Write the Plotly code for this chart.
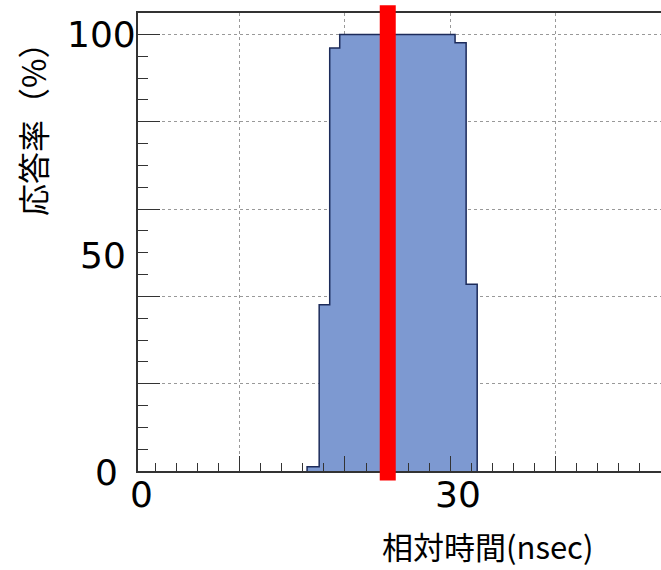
import plotly.graph_objects as go

# ---- data ----
bin_edges = [16.4, 17.55, 18.55, 19.5, 20.6, 21.7, 22.8, 23.9, 25.0, 26.05, 27.15, 28.25, 29.35, 30.45, 31.5, 32.55]
rate = [1.0, 38.1, 96.9, 100, 100, 100, 100, 100, 100, 100, 100, 100, 100, 98.1, 42.8]
marker_time = 24.06

x_major = [10, 20, 30, 40, 50]
y_major = [0, 20, 40, 60, 80, 100]
x_label_vals = [0, 30]
x_label_text = ["0", "30"]
y_label_vals = [100, 49.3, -0.3]
y_label_text = ["100", "50", "0"]
y_label_shift = [0, -10, -18]

x_title = "相対時間(nsec)"
y_title = "応答率（%）"

# ---- layout geometry ----
W, H = 661, 570
L, R, T, B = 138, 0, 13, 98.5
X0, X1 = 0.35, 50.0
Y0, Y1 = 0, 104.9
PW, PH = W - L - R, H - T - B

# ---- build step outline ----
xs = [bin_edges[0]] + bin_edges[:-1] + [bin_edges[-1], bin_edges[-1]]
ys = [0] + rate + [rate[-1], 0]

fig = go.Figure()
fig.add_trace(go.Scatter(
    x=xs, y=ys, mode="lines", line_shape="hv",
    line=dict(color="#1c2b5a", width=1.5),
    fill="tozeroy", fillcolor="#7d99d1",
    hoverinfo="skip", showlegend=False,
))

fig.add_shape(type="line", xref="x", yref="paper",
              x0=marker_time, x1=marker_time, y0=-0.0207, y1=1.0168,
              line=dict(color="#ff0000", width=16), layer="above")


def xpaper(v):
    return (v - X0) / (X1 - X0)


def ypaper(v):
    return (v - Y0) / (Y1 - Y0)


digit_font = dict(family="DejaVu Sans", size=36, color="black")
annotations = []
for v, t in zip(x_label_vals, x_label_text):
    annotations.append(dict(x=xpaper(v), y=0, xref="paper", yref="paper", text=t,
                            showarrow=False, xanchor="center", yanchor="middle",
                            xshift=7.5, yshift=-23.5, font=digit_font))
for v, t, s in zip(y_label_vals, y_label_text, y_label_shift):
    annotations.append(dict(x=0, y=ypaper(v), xref="paper", yref="paper", text=t,
                            showarrow=False, xanchor="right", yanchor="middle",
                            xshift=s, font=digit_font))
annotations.append(dict(x=(487 - L) / PW, y=(471.5 - 546) / PH,
                        xref="paper", yref="paper", text=x_title, showarrow=False,
                        xanchor="center", yanchor="middle",
                        font=dict(family="Noto Sans CJK JP", size=31, color="black")))
annotations.append(dict(x=(32 - L) / PW, y=(471.5 - 122) / PH,
                        xref="paper", yref="paper", text=y_title, showarrow=False,
                        textangle=-90, xanchor="center", yanchor="middle",
                        font=dict(family="Noto Sans CJK JP", size=32, color="black")))

fig.update_layout(
    width=W, height=H,
    margin=dict(l=L, r=R, t=T, b=B, pad=0),
    paper_bgcolor="white", plot_bgcolor="white",
    annotations=annotations,
    xaxis=dict(range=[X0, X1], showline=True, linecolor="#333333", linewidth=1.5,
               mirror=True, ticks="inside", tickvals=x_major, ticklen=15, tickwidth=1.2,
               tickcolor="#333333", showticklabels=False,
               showgrid=True, gridcolor="#999999", griddash="dot", gridwidth=1,
               minor=dict(dtick=2, tick0=0, ticks="inside", ticklen=8, tickwidth=1.2,
                          tickcolor="#333333", showgrid=False),
               zeroline=False),
    yaxis=dict(range=[Y0, Y1], showline=True, linecolor="#333333", linewidth=1.5,
               ticks="inside", tickvals=y_major, ticklen=22, tickwidth=1.2,
               tickcolor="#333333", showticklabels=False,
               showgrid=True, gridcolor="#999999", griddash="dot", gridwidth=1,
               minor=dict(dtick=5, tick0=0, ticks="inside", ticklen=10, tickwidth=1.2,
                          tickcolor="#333333", showgrid=False),
               zeroline=False),
)

fig.write_html("out.html")
